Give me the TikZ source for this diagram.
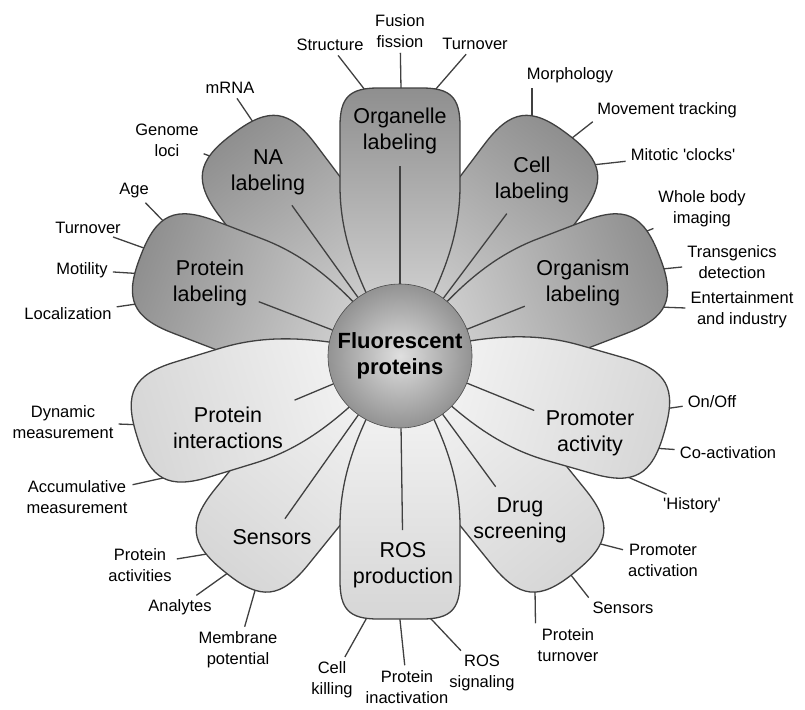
\documentclass[tikz,border=0pt]{standalone}
\usepackage{fontspec}
\setmainfont{Liberation Sans}[Ligatures=TeXOff]
\usetikzlibrary{backgrounds}

% one petal: angle, length, corner, style
\newcommand{\flowerpetal}[4]{%
  \begin{scope}[transform canvas={shift={(400,356)}, rotate=#1}]
    \path[#4] (0,0) .. controls (60,35) and (110,60) .. (170,60)
      -- ({#2-#3},60) .. controls ({#2-0.25*#3},60) and (#2,{60-0.25*#3}) .. (#2,{60-#3})
      -- (#2,{#3-60}) .. controls (#2,{0.25*#3-60}) and ({#2-0.25*#3},-60) .. ({#2-#3},-60)
      -- (170,-60) .. controls (110,-60) and (60,-35) .. cycle;
  \end{scope}}

\begin{document}
\begin{tikzpicture}[x=1pt, y=-1pt,
  petlabel/.style={align=center, font=\fontsize{21.5}{26}\selectfont, inner sep=4pt},
  sublabel/.style={align=center, font=\fontsize{16.5}{21}\selectfont, inner sep=2pt},
  spoke/.style={draw=black!75, line width=1.3pt, shorten >=8pt},
  tick/.style={draw=black!75, line width=1.3pt, shorten <=-10pt, shorten >=3pt},
  darkpetal/.style={draw=black!75, line width=1.3pt, left color=gray!25, right color=gray!88},
  lightpetal/.style={draw=black!75, line width=1.3pt, left color=gray!5, right color=gray!32},
  sphere/.style={circle, minimum size=144pt, inner sep=0pt, inner color=gray!25, outer color=gray!85,
    draw=gray!60!black, line width=0.6pt, align=center, font=\bfseries\fontsize{22}{26}\selectfont}
]
\useasboundingbox (0,0) rectangle (805,709);

% outer labels
\node[sublabel] (structure) at (330,45) {Structure};
\node[sublabel] (fusion) at (400,31) {Fusion\\fission};
\node[sublabel] (turnorg) at (475,44) {Turnover};
\node[sublabel] (mrna) at (230,88) {mRNA};
\node[sublabel] (genome) at (167,140) {Genome\\loci};
\node[sublabel] (age) at (134,191) {Age};
\node[sublabel] (turnprot) at (88,228) {Turnover};
\node[sublabel] (motility) at (82,270) {Motility};
\node[sublabel] (local) at (68,314) {Localization};
\node[sublabel] (morph) at (570,75) {Morphology};
\node[sublabel] (movement) at (667,110) {Movement tracking};
\node[sublabel] (mitotic) at (683,155) {Mitotic 'clocks'};
\node[sublabel] (wholebody) at (702,209) {Whole body\\imaging};
\node[sublabel] (transgen) at (732,262) {Transgenics\\detection};
\node[sublabel] (entert) at (742,310) {Entertainment\\and industry};
\node[sublabel] (dynamic) at (63,422) {Dynamic\\measurement};
\node[sublabel] (accum) at (77,497) {Accumulative\\measurement};
\node[sublabel] (protact) at (140,565) {Protein\\activities};
\node[sublabel] (analytes) at (180,607) {Analytes};
\node[sublabel] (membrane) at (238,650) {Membrane\\potential};
\node[sublabel] (killing) at (332,680) {Cell\\killing};
\node[sublabel] (inactiv) at (407,687) {Protein\\inactivation};
\node[sublabel] (rossig) at (482,673) {ROS\\signaling};
\node[sublabel] (promact) at (663,560) {Promoter\\activation};
\node[sublabel] (sensdrug) at (623,608) {Sensors};
\node[sublabel] (turndrug) at (568,645) {Protein\\turnover};
\node[sublabel] (onoff) at (712,402) {On/Off};
\node[sublabel] (coact) at (728,453) {Co-activation};
\node[sublabel] (history) at (692,505) {'History'};

% where the ticks leave the petals
\coordinate (c-structure) at (365,90);
\coordinate (c-fusion) at (401,89);
\coordinate (c-turnorg) at (435,90);
\coordinate (c-mrna) at (255,125);
\coordinate (c-genome) at (215,158);
\coordinate (c-age) at (170,228);
\coordinate (c-turnprot) at (155,252);
\coordinate (c-motility) at (145,274);
\coordinate (c-local) at (143,303);
\coordinate (c-morph) at (532,121);
\coordinate (c-movement) at (567,142);
\coordinate (c-mitotic) at (592,165);
\coordinate (c-wholebody) at (637,235);
\coordinate (c-transgen) at (652,270);
\coordinate (c-entert) at (658,307);
\coordinate (c-dynamic) at (145,425);
\coordinate (c-accum) at (163,478);
\coordinate (c-protact) at (213,553);
\coordinate (c-analytes) at (232,570);
\coordinate (c-membrane) at (256,587);
\coordinate (c-killing) at (365,621);
\coordinate (c-inactiv) at (400,620);
\coordinate (c-rossig) at (433,621);
\coordinate (c-promact) at (593,542);
\coordinate (c-sensdrug) at (567,570);
\coordinate (c-turndrug) at (535,590);
\coordinate (c-onoff) at (657,410);
\coordinate (c-coact) at (652,448);
\coordinate (c-history) at (630,478);

\begin{scope}[on background layer]
  \foreach \n in {structure,fusion,turnorg,mrna,genome,age,turnprot,motility,local,
      mitotic,wholebody,transgen,entert,dynamic,accum,protact,analytes,membrane,
      killing,inactiv,rossig,promact,onoff,coact,history}
    \draw[tick] (c-\n) -- (\n);
  \draw[tick] (c-morph) -- (c-morph |- morph.south);
  \draw[tick] (c-movement) -- (movement.south west);
  \draw[tick] (c-sensdrug) -- (sensdrug.north west);
  \draw[tick] (c-turndrug) -- (turndrug.north west);

  % petals, back ones first
  \flowerpetal{127}{278}{58}{darkpetal}
  \flowerpetal{53}{278}{58}{darkpetal}
  \flowerpetal{231}{278}{58}{lightpetal}
  \flowerpetal{-51}{278}{58}{lightpetal}
  \flowerpetal{90}{268}{38}{darkpetal}
  \flowerpetal{159}{278}{58}{darkpetal}
  \flowerpetal{21}{278}{58}{darkpetal}
  \flowerpetal{197}{275}{58}{lightpetal}
  \flowerpetal{-16}{275}{58}{lightpetal}
  \flowerpetal{-90}{263}{38}{lightpetal}
\end{scope}

\node[sphere] (fp) at (400,356) {Fluorescent\\proteins};

% petal labels
\node[petlabel] (organelle) at (400,131) {Organelle\\labeling};
\node[petlabel] (na) at (268,172) {NA\\labeling};
\node[petlabel] (cell) at (532,180) {Cell\\labeling};
\node[petlabel] (protlab) at (210,283) {Protein\\labeling};
\node[petlabel] (organism) at (583,283) {Organism\\labeling};
\node[petlabel] (protint) at (228,428) {Protein\\interactions};
\node[petlabel] (promoter) at (590,433) {Promoter\\activity};
\node[petlabel] (sensors) at (272,537) {Sensors};
\node[petlabel] (ros) at (403,565) {ROS\\production};
\node[petlabel] (drug) at (520,520) {Drug\\screening};

\foreach \p in {organelle,na,cell,protlab,organism,protint,promoter,sensors,ros,drug}
  \draw[spoke] (fp) -- (\p);
\end{tikzpicture}
\end{document}
